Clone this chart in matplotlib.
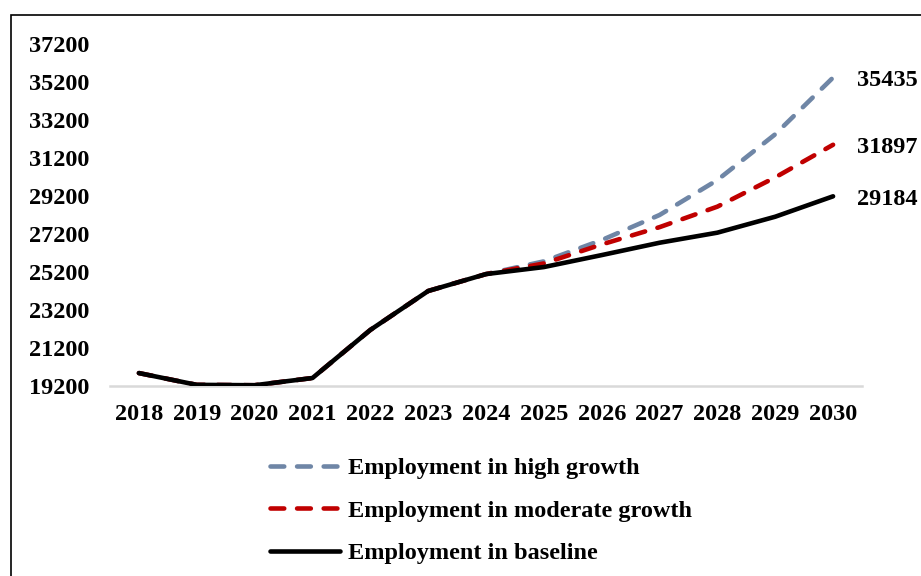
import matplotlib.pyplot as plt
from matplotlib.patches import Rectangle

# data
years = [2018, 2019, 2020, 2021, 2022, 2023, 2024, 2025, 2026, 2027, 2028, 2029, 2030]
baseline = [19880, 19260, 19240, 19620, 22150, 24200, 25090, 25460, 26090, 26740, 27270, 28110, 29184]
moderate = [19880, 19260, 19240, 19620, 22150, 24200, 25090, 25650, 26650, 27560, 28640, 30180, 31897]
high = [19880, 19260, 19240, 19620, 22150, 24200, 25090, 25760, 26880, 28200, 30040, 32450, 35435]
yticks = list(range(19200, 37201, 2000))

plt.rcParams['font.family'] = ['Liberation Serif', 'DejaVu Serif']
plt.rcParams['font.weight'] = 'bold'
fs = 17.5

fig = plt.figure(figsize=(9.21, 5.76), dpi=100)
ax = fig.add_axes([110 / 921, 1 - 386 / 576, 752 / 921, 342 / 576])

# outer frame of the chart area (cut off on right and bottom)
fig.patches.append(Rectangle((11 / 921, -0.1), 1.2, 1 - 15 / 576 + 0.1,
                             transform=fig.transFigure, fill=False,
                             edgecolor='black', linewidth=1.2))

ax.plot(years, high, color='#6F86A6', lw=3.3, dashes=(3, 2.8),
        dash_capstyle='round', label='Employment in high growth', zorder=2)
ax.plot(years, moderate, color='#C00000', lw=3.3, dashes=(3, 2.8),
        dash_capstyle='round', label='Employment in moderate growth', zorder=3)
ax.plot(years, baseline, color='black', lw=3.3, solid_capstyle='round',
        label='Employment in baseline', zorder=4)

for series in (high, moderate, baseline):
    ax.annotate(str(series[-1]), (years[-1], series[-1]), xytext=(17, -2),
                textcoords='offset points', va='center', ha='left',
                fontsize=fs, fontweight='bold', annotation_clip=False)

ax.set_xlim(2017.5, 2030.5)
ax.set_ylim(19200, 37200)
ax.set_xticks(years)
ax.set_yticks(yticks)
ax.tick_params(axis='both', length=0, labelsize=fs)
ax.tick_params(axis='x', pad=13)
ax.tick_params(axis='y', pad=15)

for s in ['top', 'right', 'left']:
    ax.spines[s].set_visible(False)
ax.spines['bottom'].set_color('#D9D9D9')
ax.spines['bottom'].set_linewidth(1.8)

ax.legend(loc='upper left', bbox_to_anchor=(270 / 921, 1 - 457 / 576),
          bbox_transform=fig.transFigure, frameon=False, fontsize=fs,
          handlelength=2.9, handletextpad=0.3, labelspacing=0.85,
          borderaxespad=0, borderpad=0)

fig.savefig('out.png', dpi=100)
